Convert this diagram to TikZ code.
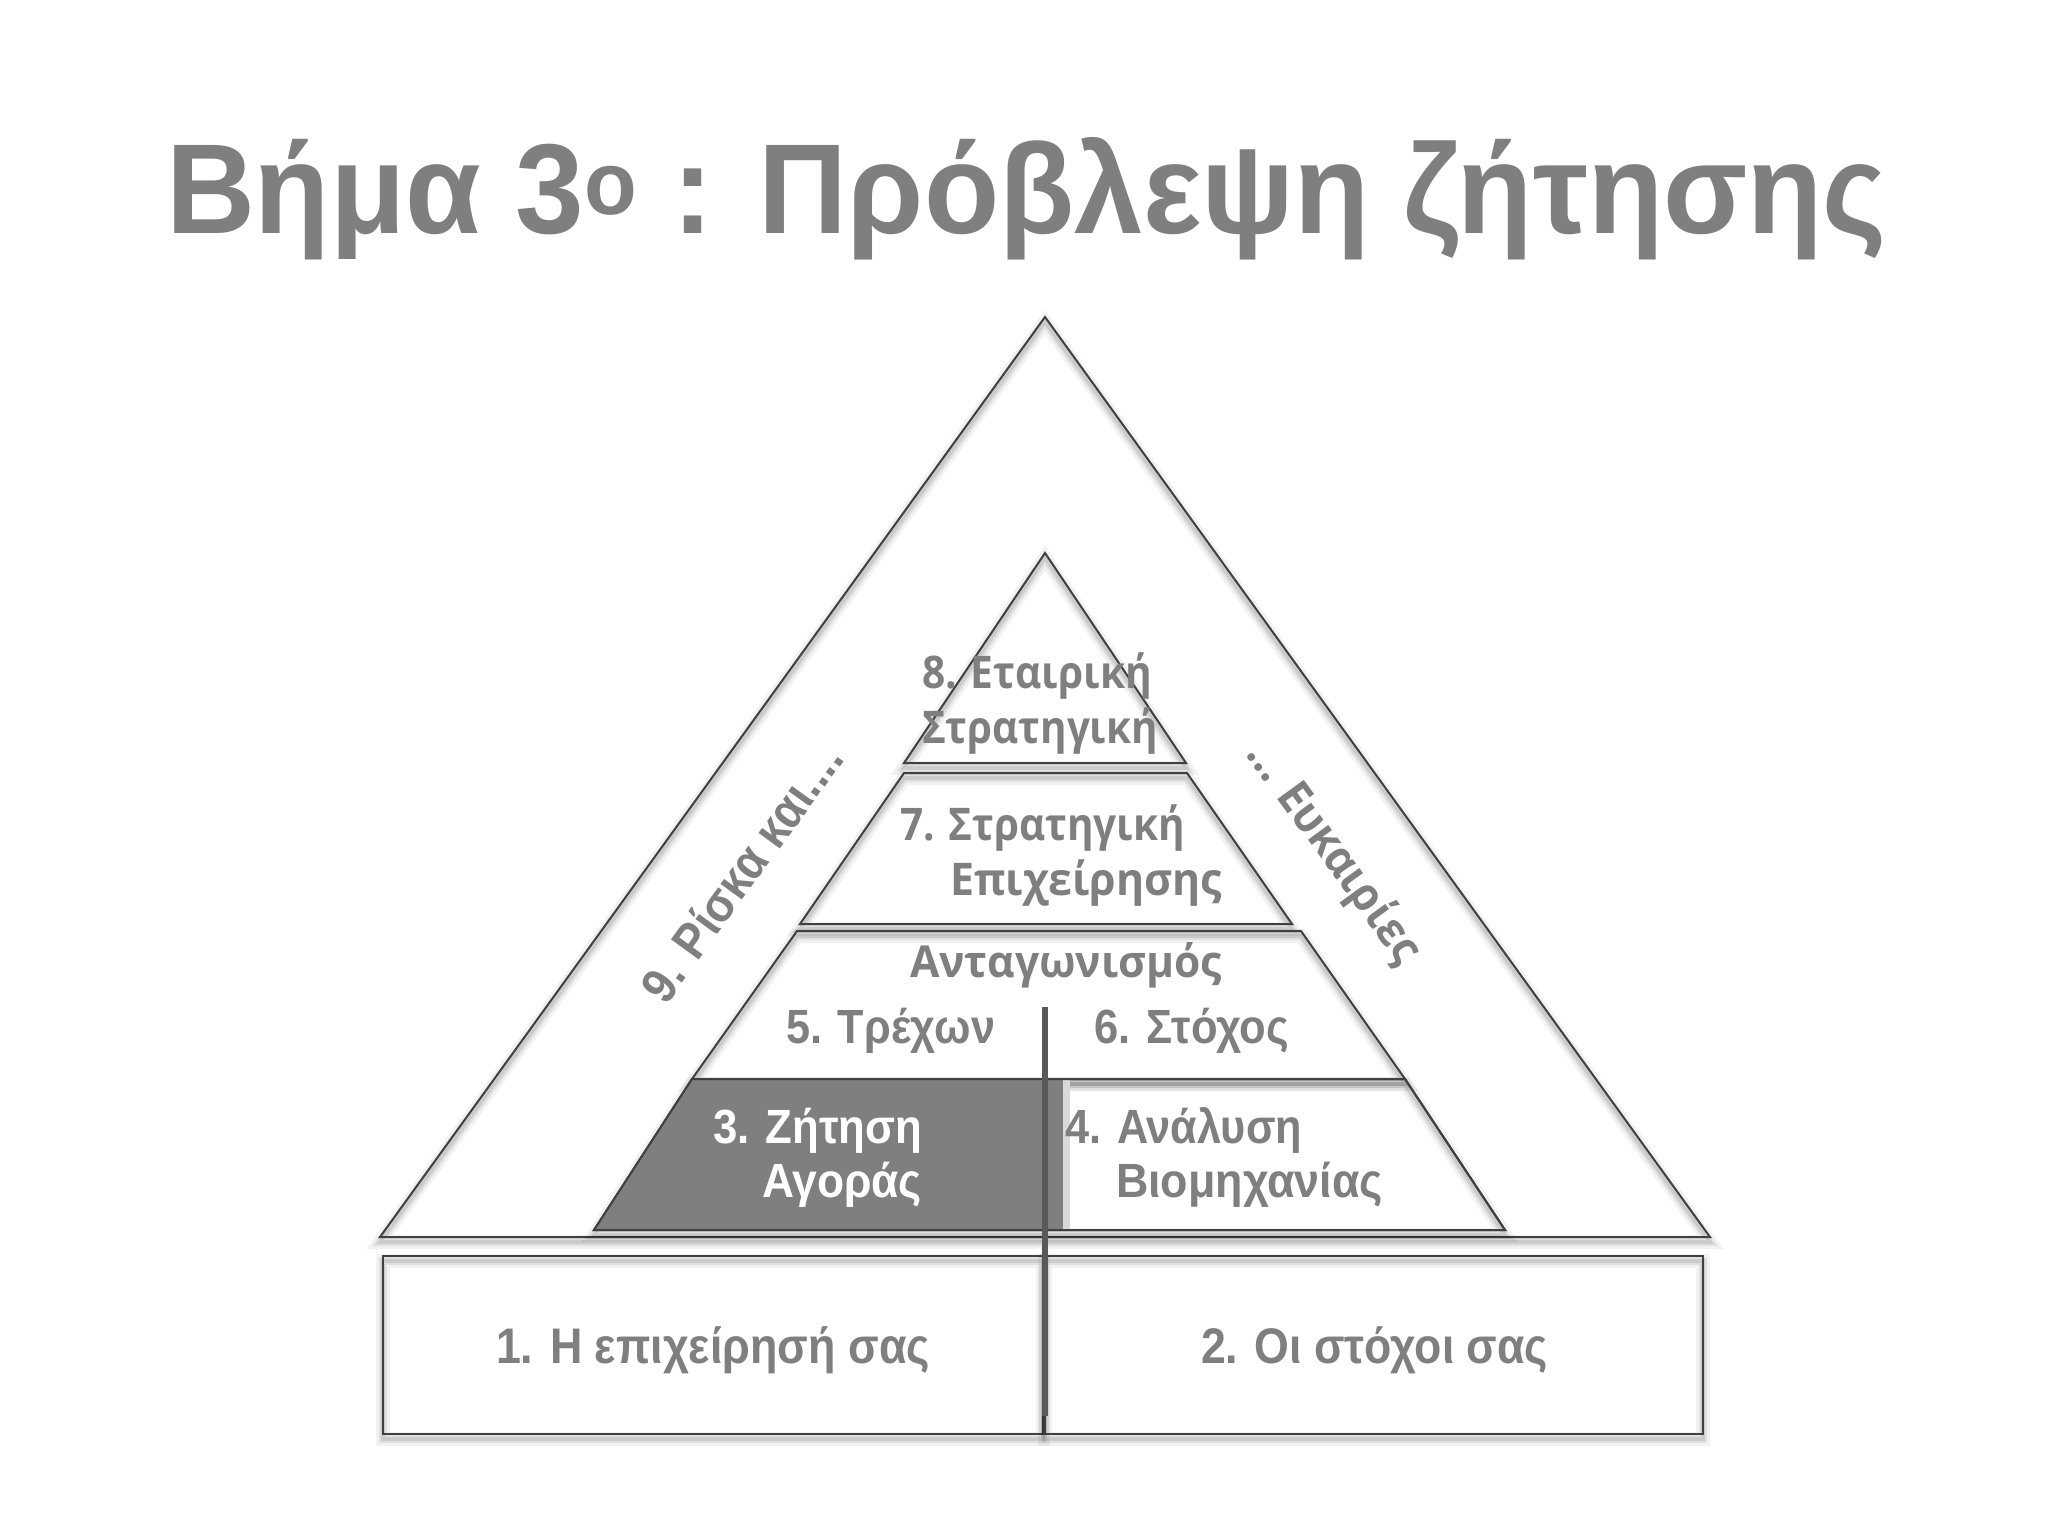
\documentclass[tikz,border=0pt]{standalone}
\usepackage{fontspec}
\setmainfont{Liberation Sans}
\newfontfamily\hum{Open Sans}
\usepackage{graphicx}
\definecolor{txt}{HTML}{7F7F7F}
\definecolor{edgec}{HTML}{404040}
\definecolor{darkf}{HTML}{7F7F7F}
\definecolor{lightg}{HTML}{D9D9D9}
\definecolor{sepc}{HTML}{595959}
\newlength\fitlen
\newcommand\fitw[2]{\settowidth\fitlen{#2}\pgfmathsetmacro\fitf{#1/\fitlen}\scalebox{\fitf}[1]{#2}}
\newcommand\fs[1]{\fontsize{#1pt}{#1pt}\selectfont}
\tikzset{
  sh/.style={
    preaction={draw=black,opacity=0.05,line width=7pt,transform canvas={yshift=-2.5pt}},
    preaction={draw=black,opacity=0.07,line width=4pt,transform canvas={yshift=-2.5pt}},
    preaction={draw=black,opacity=0.09,line width=1.8pt,transform canvas={yshift=-2.5pt}}},
  outl/.style={draw=edgec,line width=1pt,line join=miter},
  lbl/.style={anchor=base west,inner sep=0pt,outer sep=0pt,text=txt,font=\bfseries},
  rlbl/.style={anchor=center,inner sep=0pt,outer sep=0pt,text=txt,font=\bfseries},
}
\begin{document}
\begin{tikzpicture}[x=0.5pt,y=-0.5pt]
\useasboundingbox[fill=white] (0,0) rectangle (2048,1536);
% title
\node[lbl] (title) at (166,233) {\fitw{860.5pt}{\bfseries\fs{64}Βήμα 3\textsuperscript{ο} : Πρόβλεψη ζήτησης}};
% outer triangle
\draw[outl,sh] (1045,317) -- (1710,1237) -- (380,1237) -- cycle;
% bottom boxes
\draw[outl,sh] (383,1256) rectangle (1043,1434);
\draw[outl,sh] (1045,1256) rectangle (1703,1434);
% pyramid layers
\draw[outl,sh] (1045,553) -- (1186,763) -- (904,763) -- cycle;
\draw[outl,sh] (904,773) -- (1187,773) -- (1292,924) -- (800,924) -- cycle;
\draw[outl,sh] (797,931) -- (1301,931) -- (1405,1079) -- (692,1079) -- cycle;
\draw[outl,sh] (692,1079) -- (1405,1079) -- (1505,1230) -- (594,1230) -- cycle;
\fill[darkf] (692,1079) -- (1063,1079) -- (1063,1230) -- (594,1230) -- cycle;
\fill[lightg] (1063,1080) rectangle (1070,1229);
\draw[outl] (692,1079) -- (1405,1079) -- (1505,1230) -- (594,1230) -- cycle;
% separator
\draw[sepc,line width=3pt] (1045,1007) -- (1045,1416);
% labels
\node[lbl] (l8a) at (922,688) {\fitw{115pt}{\hum\bfseries\fs{22.5}8. Εταιρική}};
\node[lbl] (l8b) at (922,743) {\fitw{118pt}{\hum\bfseries\fs{22.5}Στρατηγική}};
\node[lbl] (l7a) at (900,840) {\fitw{142.5pt}{\hum\bfseries\fs{22.5}7. Στρατηγική}};
\node[lbl] (l7b) at (950,895) {\fitw{136pt}{\hum\bfseries\fs{22.5}Επιχείρησης}};
\node[lbl] (l6) at (910,977) {\fitw{156pt}{\hum\bfseries\fs{22}Ανταγωνισμός}};
\node[lbl] (l5) at (786,1043) {\fitw{104.5pt}{\bfseries\fs{24}5. Τρέχων}};
\node[lbl] (l6b) at (1094,1043) {\fitw{97.5pt}{\bfseries\fs{24}6. Στόχος}};
\node[lbl,text=white] (l3a) at (713,1143) {\fitw{104.5pt}{\bfseries\fs{24}3. Ζήτηση}};
\node[lbl,text=white] (l3b) at (762,1197) {\fitw{80pt}{\bfseries\fs{24}Αγοράς}};
\node[lbl] (l4a) at (1065,1143) {\fitw{118.5pt}{\bfseries\fs{24}4. Ανάλυση}};
\node[lbl] (l4b) at (1116,1197) {\fitw{133.5pt}{\bfseries\fs{24}Βιομηχανίας}};
\node[lbl] (l1) at (496,1363) {\fitw{217pt}{\bfseries\fs{25}1. Η επιχείρησή σας}};
\node[lbl] (l2) at (1201,1363) {\fitw{173.5pt}{\bfseries\fs{25}2. Οι στόχοι σας}};
\node[rlbl,rotate=54] (r9) at (741,872) {\fitw{152.5pt}{\bfseries\fs{25}9. Ρίσκα και....}};
\node[rlbl,rotate=-54] (r10) at (1333,853) {\fitw{131pt}{\hum\bfseries\fs{23}... Ευκαιρίες}};
\end{tikzpicture}
\end{document}
